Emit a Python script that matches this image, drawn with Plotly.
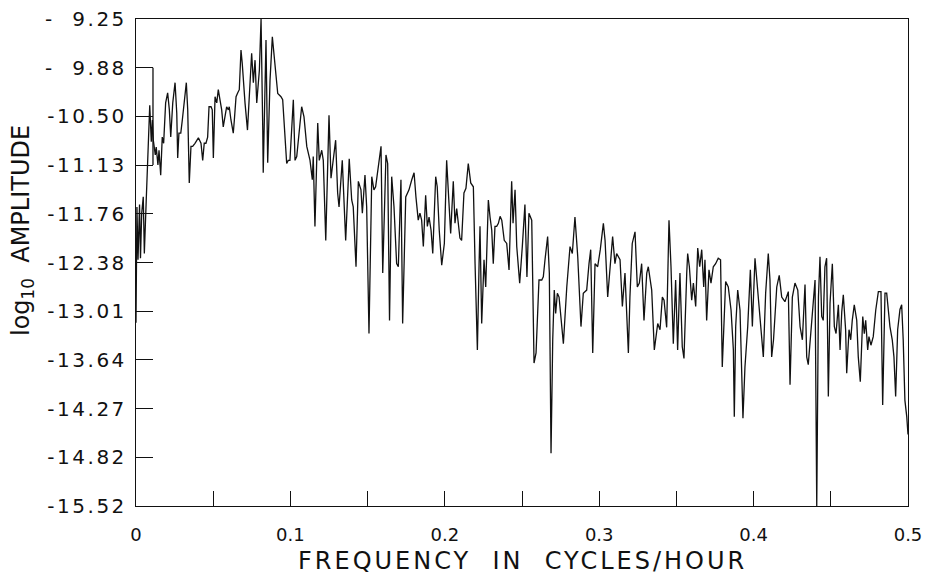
import plotly.graph_objects as go

# Frequency (cycles/hour) and log10 amplitude
freq = [
    0.0000, 0.0006, 0.0013, 0.0023, 0.0029, 0.0037, 0.0047, 0.0054, 0.0066, 0.0089,
    0.0099, 0.0106, 0.0112, 0.0125, 0.0131, 0.0142, 0.0149, 0.0160, 0.0170, 0.0179,
    0.0192, 0.0205, 0.0216, 0.0225, 0.0238, 0.0253, 0.0264, 0.0270, 0.0278, 0.0290,
    0.0300, 0.0317, 0.0326, 0.0335, 0.0345, 0.0356, 0.0367, 0.0382, 0.0393, 0.0404,
    0.0421, 0.0432, 0.0442, 0.0453, 0.0464, 0.0473, 0.0486, 0.0494, 0.0501, 0.0512,
    0.0523, 0.0533, 0.0544, 0.0555, 0.0565, 0.0576, 0.0587, 0.0598, 0.0604, 0.0615,
    0.0630, 0.0637, 0.0648, 0.0659, 0.0669, 0.0680, 0.0688, 0.0706, 0.0722, 0.0749,
    0.0760, 0.0771, 0.0782, 0.0799, 0.0810, 0.0821, 0.0824, 0.0842, 0.0853, 0.0868,
    0.0883, 0.0918, 0.0939, 0.0950, 0.0976, 0.0986, 0.0997, 0.1019, 0.1030, 0.1041,
    0.1073, 0.1088, 0.1106, 0.1127, 0.1142, 0.1148, 0.1159, 0.1177, 0.1187, 0.1203,
    0.1213, 0.1229, 0.1250, 0.1263, 0.1278, 0.1293, 0.1306, 0.1315, 0.1336, 0.1349,
    0.1358, 0.1381, 0.1397, 0.1407, 0.1425, 0.1440, 0.1457, 0.1466, 0.1483, 0.1494,
    0.1509, 0.1527, 0.1541, 0.1552, 0.1587, 0.1598, 0.1619, 0.1630, 0.1642, 0.1656,
    0.1671, 0.1688, 0.1699, 0.1716, 0.1727, 0.1747, 0.1768, 0.1786, 0.1801, 0.1813,
    0.1828, 0.1839, 0.1850, 0.1861, 0.1876, 0.1887, 0.1898, 0.1911, 0.1922, 0.1941,
    0.1951, 0.1964, 0.1980, 0.1997, 0.2012, 0.2027, 0.2038, 0.2055, 0.2066, 0.2077,
    0.2087, 0.2098, 0.2109, 0.2124, 0.2137, 0.2152, 0.2168, 0.2185, 0.2196, 0.2207,
    0.2211, 0.2222, 0.2228, 0.2239, 0.2254, 0.2265, 0.2282, 0.2293, 0.2304, 0.2314,
    0.2325, 0.2336, 0.2347, 0.2358, 0.2369, 0.2385, 0.2401, 0.2416, 0.2433, 0.2442,
    0.2455, 0.2466, 0.2485, 0.2502, 0.2519, 0.2532, 0.2545, 0.2563, 0.2578, 0.2591,
    0.2610, 0.2628, 0.2638, 0.2649, 0.2666, 0.2677, 0.2688, 0.2699, 0.2709, 0.2718,
    0.2729, 0.2740, 0.2757, 0.2768, 0.2790, 0.2811, 0.2826, 0.2843, 0.2861, 0.2882,
    0.2897, 0.2919, 0.2934, 0.2945, 0.2958, 0.2973, 0.2990, 0.3007, 0.3027, 0.3038,
    0.3055, 0.3070, 0.3087, 0.3102, 0.3113, 0.3135, 0.3150, 0.3167, 0.3189, 0.3199,
    0.3214, 0.3232, 0.3247, 0.3260, 0.3275, 0.3290, 0.3308, 0.3318, 0.3340, 0.3357,
    0.3379, 0.3394, 0.3409, 0.3420, 0.3437, 0.3452, 0.3465, 0.3480, 0.3495, 0.3508,
    0.3523, 0.3538, 0.3549, 0.3567, 0.3573, 0.3584, 0.3599, 0.3610, 0.3625, 0.3638,
    0.3651, 0.3664, 0.3677, 0.3685, 0.3696, 0.3711, 0.3724, 0.3739, 0.3754, 0.3771,
    0.3786, 0.3797, 0.3808, 0.3819, 0.3836, 0.3854, 0.3869, 0.3875, 0.3884, 0.3897,
    0.3912, 0.3931, 0.3944, 0.3962, 0.3979, 0.3992, 0.4009, 0.4022, 0.4035, 0.4052,
    0.4063, 0.4078, 0.4095, 0.4106, 0.4117, 0.4129, 0.4150, 0.4166, 0.4182, 0.4203,
    0.4225, 0.4236, 0.4251, 0.4268, 0.4286, 0.4301, 0.4316, 0.4333, 0.4344, 0.4354,
    0.4372, 0.4387, 0.4398, 0.4409, 0.4420, 0.4430, 0.4441, 0.4451, 0.4462, 0.4473,
    0.4484, 0.4495, 0.4510, 0.4523, 0.4534, 0.4549, 0.4560, 0.4571, 0.4581, 0.4596,
    0.4603, 0.4618, 0.4629, 0.4639, 0.4652, 0.4668, 0.4678, 0.4691, 0.4707, 0.4717,
    0.4726, 0.4739, 0.4747, 0.4760, 0.4775, 0.4791, 0.4808, 0.4825, 0.4836, 0.4851,
    0.4862, 0.4883, 0.4898, 0.4909, 0.4920, 0.4933, 0.4948, 0.4959, 0.4969, 0.4980,
    0.4992, 0.5000,
]

log_amp = [
    -13.16, -11.67, -12.35, -11.64, -12.33, -11.75, -11.54, -12.27, -11.60, -10.36,
    -10.83, -10.55, -10.81, -11.00, -10.90, -11.13, -10.94, -11.26, -10.77, -10.85,
    -10.33, -10.20, -10.42, -10.77, -10.33, -10.07, -10.46, -11.04, -10.72, -10.72,
    -10.55, -10.20, -10.07, -10.42, -11.36, -10.89, -10.89, -10.85, -10.81, -10.78,
    -10.85, -11.07, -10.85, -10.85, -10.77, -10.38, -10.38, -10.42, -11.04, -10.25,
    -10.33, -10.16, -10.29, -10.42, -10.64, -10.51, -10.38, -10.42, -10.38, -10.55,
    -10.72, -10.55, -10.25, -10.20, -10.16, -9.65, -9.82, -10.33, -10.68, -9.69,
    -10.07, -9.78, -10.33, -9.91, -9.25, -10.68, -11.23, -9.52, -11.10, -10.04,
    -9.48, -10.21, -10.25, -10.29, -11.11, -11.07, -11.07, -10.29, -11.07, -11.02,
    -10.38, -10.51, -10.89, -11.07, -11.32, -11.02, -11.92, -10.59, -11.07, -10.94,
    -11.07, -12.10, -10.49, -11.30, -11.04, -10.81, -11.49, -11.67, -11.07, -11.62,
    -12.10, -11.05, -11.58, -11.67, -12.44, -11.34, -11.45, -11.75, -11.26, -11.67,
    -13.30, -11.28, -11.45, -11.41, -10.89, -12.52, -11.00, -11.11, -13.13, -11.28,
    -11.67, -12.40, -12.44, -11.32, -13.17, -11.54, -11.45, -11.32, -11.23, -11.54,
    -11.84, -11.75, -11.84, -12.18, -11.52, -11.92, -11.80, -11.97, -12.27, -11.28,
    -11.41, -11.97, -12.42, -12.14, -11.07, -11.62, -12.01, -11.34, -11.88, -11.69,
    -11.88, -12.07, -12.10, -11.49, -11.43, -11.11, -11.36, -11.41, -12.40, -13.04,
    -13.51, -12.40, -11.92, -13.17, -12.35, -12.70, -11.58, -11.80, -11.97, -12.40,
    -11.92, -11.92, -11.88, -11.79, -11.84, -12.10, -12.14, -12.48, -11.34, -11.88,
    -11.45, -12.18, -12.65, -12.18, -11.64, -12.57, -11.75, -11.84, -13.68, -13.55,
    -12.61, -12.61, -12.57, -12.35, -12.05, -12.52, -14.84, -13.38, -12.74, -13.04,
    -12.78, -12.83, -13.21, -13.43, -12.70, -12.18, -12.27, -11.80, -12.31, -13.21,
    -12.78, -12.74, -12.40, -12.22, -13.55, -12.40, -12.44, -12.22, -11.88, -12.10,
    -12.83, -12.44, -12.05, -12.40, -12.27, -12.35, -12.95, -12.52, -13.55, -12.83,
    -12.14, -11.99, -12.70, -12.65, -12.40, -13.13, -12.52, -12.44, -12.74, -13.51,
    -13.17, -13.25, -12.83, -12.87, -13.22, -11.84, -12.44, -13.43, -12.61, -13.51,
    -12.52, -13.47, -13.62, -12.52, -12.27, -12.44, -12.87, -12.65, -12.95, -12.20,
    -12.44, -12.22, -12.70, -12.35, -13.13, -12.48, -12.65, -12.44, -12.40, -12.33,
    -12.35, -13.73, -13.13, -12.63, -12.70, -13.00, -13.51, -14.37, -13.21, -12.74,
    -13.00, -14.39, -13.73, -13.21, -12.48, -13.21, -12.33, -12.65, -12.95, -13.30,
    -13.60, -12.78, -12.27, -12.61, -13.60, -13.38, -12.70, -12.55, -12.83, -12.89,
    -12.76, -13.96, -12.83, -12.65, -12.74, -13.21, -13.38, -12.67, -13.60, -13.70,
    -13.25, -12.83, -12.61, -15.52, -12.83, -12.31, -13.08, -13.13, -12.44, -12.33,
    -14.11, -12.91, -12.40, -13.21, -13.30, -12.93, -13.51, -13.02, -12.80, -13.25,
    -13.81, -13.25, -13.38, -13.13, -12.93, -13.13, -13.60, -13.92, -13.08, -13.30,
    -13.13, -13.51, -13.34, -13.45, -13.34, -13.00, -12.76, -12.76, -14.22, -12.78,
    -12.78, -13.21, -13.38, -13.60, -14.11, -13.25, -12.99, -12.93, -13.38, -14.16,
    -14.37, -14.60,
]

# Axis labels as printed on the reference
y_tick_labels = ["- 9.25", "- 9.88", "-10.50", "-11.13", "-11.76", "-12.38",
                 "-13.01", "-13.64", "-14.27", "-14.82", "-15.52"]
y_top, y_bottom = -9.25, -15.52
x_tick_values = [0, 0.1, 0.2, 0.3, 0.4, 0.5]
x_tick_labels = ["0", "0.1", "0.2", "0.3", "0.4", "0.5"]

# Small vertical stroke joining two tick ends near the origin in the reference
stroke_x = [0.011, 0.011]
stroke_y = [-9.877, -11.131]

n = len(y_tick_labels)
step = (y_top - y_bottom) / (n - 1)
y_tickvals = [y_top - i * step for i in range(n)]
y_ticktext = ['<span style="letter-spacing:2.5px">%s</span>' % t.replace(" ", "\u00a0\u00a0")
              for t in y_tick_labels]

FONT = "DejaVu Sans"
INK = "#111111"

fig = go.Figure()
fig.add_trace(go.Scatter(x=freq, y=log_amp, mode="lines",
                         line=dict(color=INK, width=1.3),
                         hoverinfo="skip", showlegend=False))
fig.add_trace(go.Scatter(x=stroke_x, y=stroke_y, mode="lines",
                         line=dict(color=INK, width=1.3),
                         hoverinfo="skip", showlegend=False))

fig.update_layout(
    width=927, height=578,
    margin=dict(l=136, r=19, t=19, b=72),
    paper_bgcolor="white", plot_bgcolor="white",
    font=dict(family=FONT, color=INK, size=20),
    xaxis=dict(range=[0, 0.5], tickmode="array", tickvals=x_tick_values, ticktext=x_tick_labels,
               ticks="inside", ticklen=15, tickwidth=1.2, tickcolor=INK,
               minor=dict(tick0=0, dtick=0.05, ticks="inside", ticklen=15,
                          tickwidth=1.2, tickcolor=INK, showgrid=False),
               showline=True, linecolor=INK, linewidth=1.3, mirror=True,
               showgrid=False, zeroline=False, ticklabelstandoff=12, automargin=False,
               tickfont=dict(family=FONT, size=18, color=INK)),
    yaxis=dict(range=[y_bottom, y_top], tickmode="array", tickvals=y_tickvals, ticktext=y_ticktext,
               ticks="inside", ticklen=17, tickwidth=1.2, tickcolor=INK,
               showline=True, linecolor=INK, linewidth=1.3, mirror=True,
               showgrid=False, zeroline=False, ticklabelstandoff=4, automargin=False,
               tickfont=dict(family=FONT, size=20, color=INK)),
    annotations=[
        dict(text='<span style="letter-spacing:3px">FREQUENCY\u00a0\u00a0IN\u00a0\u00a0CYCLES/HOUR</span>',
             xref="paper", yref="paper", x=0.5, y=-0.113, xanchor="center", yanchor="middle",
             showarrow=False, font=dict(family=FONT, size=24, color=INK)),
        dict(text="log<sub>10</sub>\u00a0\u00a0AMPLITUDE",
             xref="paper", yref="paper", x=-0.1477, y=0.5667, xanchor="center", yanchor="middle",
             textangle=-90, showarrow=False, font=dict(family=FONT, size=24, color=INK)),
    ],
)

fig.write_html("out.html")
